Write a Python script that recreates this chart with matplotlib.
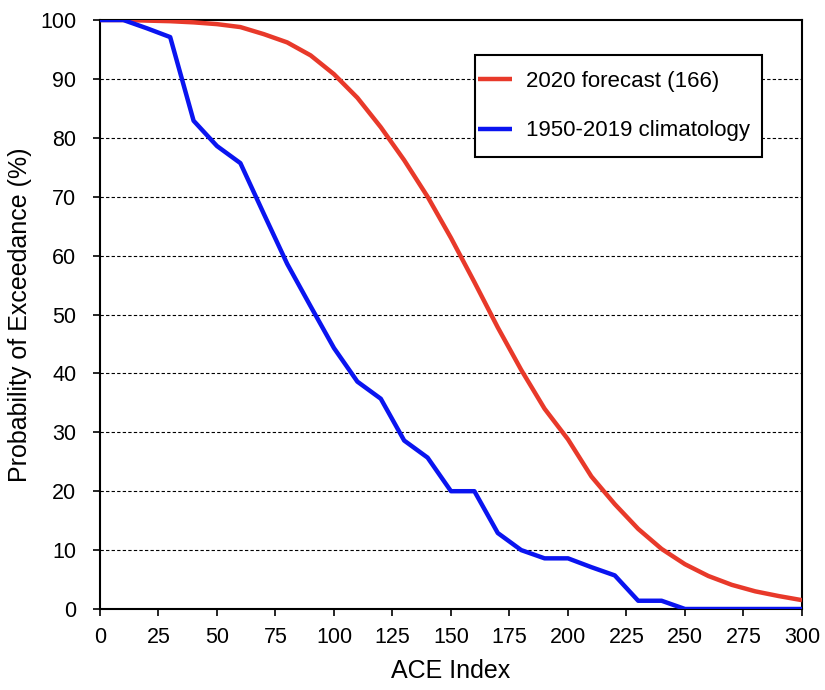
import matplotlib
matplotlib.use("Agg")
import matplotlib.pyplot as plt
from matplotlib.patches import Rectangle

plt.rcParams['font.family'] = ['Liberation Sans', 'DejaVu Sans']

ace = [0, 10, 20, 30, 40, 50, 60, 70, 80, 90, 100, 110, 120, 130, 140, 150,
       160, 170, 180, 190, 200, 210, 220, 230, 240, 250, 260, 270, 280, 290, 300]
forecast = [100, 100, 99.9, 99.8, 99.6, 99.3, 98.8, 97.6, 96.2, 94.0, 90.8, 86.8,
            81.8, 76.2, 70.0, 63.0, 55.5, 47.8, 40.6, 34.0, 28.8, 22.5, 17.8,
            13.6, 10.2, 7.6, 5.6, 4.1, 3.0, 2.2, 1.5]
climo = [100, 100, 98.6, 97.1, 82.9, 78.6, 75.7, 67.1, 58.6, 51.4, 44.3, 38.6,
         35.7, 28.6, 25.7, 20.0, 20.0, 12.9, 10.0, 8.6, 8.6, 7.1, 5.7, 1.4, 1.4,
         0, 0, 0, 0, 0, 0]
labels = ['2020 forecast (166)', '1950-2019 climatology']
xticks = list(range(0, 301, 25))
yticks = list(range(0, 101, 10))

fig = plt.figure(figsize=(8.25, 6.9), dpi=100)
ax = fig.add_axes([0.1212, 0.1174, 0.8509, 0.8536])

for y in yticks[1:-1]:
    ax.axhline(y, color='black', lw=0.8, ls=(0, (3, 2)), zorder=1)

ax.plot(ace, forecast, color='#e8392a', lw=3.2, label=labels[0], zorder=3, solid_capstyle='butt')
ax.plot(ace, climo, color='#0a14f0', lw=3.2, label=labels[1], zorder=4, solid_capstyle='butt')

ax.set_xlim(0, 300)
ax.set_ylim(0, 100)
ax.set_xticks(xticks)
ax.set_yticks(yticks)
ax.tick_params(axis='both', labelsize=15.5, direction='out', length=5, width=1.2, color='black')
ax.tick_params(axis='x', pad=8)
ax.tick_params(axis='y', pad=12)
for s in ax.spines.values():
    s.set_linewidth(1.5)
    s.set_color('black')
ax.set_xlabel('ACE Index', fontsize=18, labelpad=8)
ax.set_ylabel('Probability of Exceedance (%)', fontsize=18, labelpad=6)

# legend box
x0, x1, yb, yt = 0.534, 0.943, 0.7674, 0.9406
ax.add_patch(Rectangle((x0, yb), x1 - x0, yt - yb, transform=ax.transAxes,
                       facecolor='white', edgecolor='black', lw=1.5, zorder=5))
leg = ax.legend(loc='upper left', bbox_to_anchor=(x0 + 3 / 702, yt - 16 / 589), fontsize=16,
                frameon=False, handlelength=1.55, labelspacing=1.28, borderpad=0,
                handletextpad=0.62, borderaxespad=0)
leg.set_zorder(6)

fig.savefig('out.png', dpi=100)
